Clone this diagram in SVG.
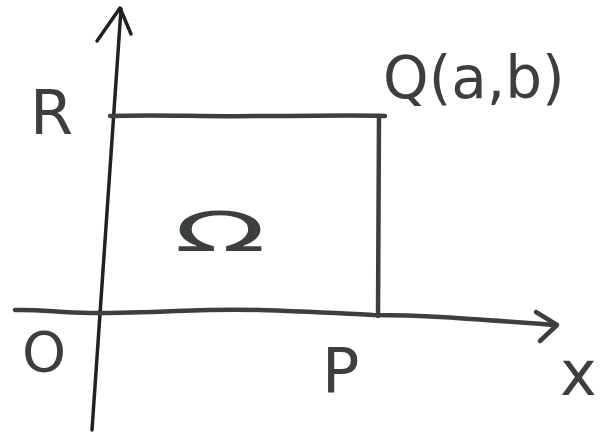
<svg xmlns="http://www.w3.org/2000/svg" width="607" height="441" viewBox="0 0 607 441">
<style>
.ln{fill:none;stroke:#3b3f3f;stroke-width:4.5;stroke-linecap:round;stroke-linejoin:round}
.ax{fill:none;stroke:#1f2222;stroke-width:3.5;stroke-linecap:round;stroke-linejoin:round}
.lb{font-family:"DejaVu Sans","Liberation Sans",sans-serif;fill:#3b3f3f;font-weight:normal}
</style>
<rect width="607" height="441" fill="#ffffff"/>
<g id="connectors">
<path class="ax" d="M92 430 L121 9"/>
<path class="ax" d="M97 41 L120 8 L131 34"/>
<path class="ln" d="M15 310 C40 309 60 313 90 313 C170 313 200 308 260 310 C320 312 340 313 373 315 C420 315 460 318 555 325"/>
<path class="ln" d="M536 312 L557 325 L540 341"/>
</g>
<g id="rect">
<path class="ln" d="M110 116 C160 114 200 117 260 116 C320 116 350 115 385 116"/>
<path class="ln" d="M379 116 L378 316"/>
</g>
<g id="label-R"><text class="lb" x="30" y="134" font-size="62">R</text></g>
<g id="label-Q"><text class="lb" x="383" y="98" font-size="58">Q(a,b)</text></g>
<g id="label-Omega"><text class="lb" x="174" y="251" font-size="56" textLength="92" lengthAdjust="spacingAndGlyphs">Ω</text></g>
<g id="label-O"><text class="lb" x="22" y="371" font-size="56">O</text></g>
<g id="label-P"><text class="lb" x="322" y="392" font-size="62">P</text></g>
<g id="label-x"><text class="lb" x="560" y="395" font-size="62">x</text></g>
</svg>
